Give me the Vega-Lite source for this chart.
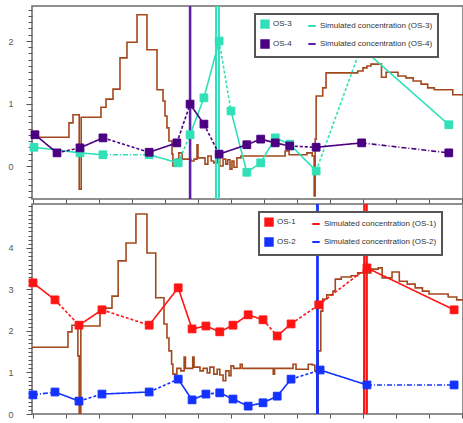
{
  "$schema": "https://vega.github.io/schema/vega-lite/v6.json",
  "background": "white",
  "padding": {"left": 7, "top": 5, "right": 0, "bottom": 0},
  "spacing": 5,
  "bounds": "flush",
  "config": {
    "view": {"stroke": "#6b6b6b", "strokeWidth": 1.5},
    "axis": {"title": null, "grid": false, "domain": false, "tickColor": "#555", "tickWidth": 1, "labelFont": "Liberation Sans", "labelFontSize": 9, "labelColor": "#555"},
    "axisX": {"labels": false, "tickSize": 4, "values": [0,2,4,6,8,10,12,14,16,18,20,22,24,26,28,30,32,34,36,38,40,42,44,46,48,50,52,54,56,58,60,62,64]},
    "axisY": {"tickSize": 5, "labelPadding": 14},
    "legend": {"orient": "none", "columns": 2, "columnPadding": 12, "rowPadding": 4, "padding": 5, "symbolSize": 55, "symbolStrokeWidth": 2, "labelFont": "Liberation Sans", "labelFontSize": 8, "labelColor": "#333", "labelOffset": 3, "fillColor": "white", "strokeColor": "#555"}
  },
  "datasets": {
    "top_brown": [
      {"t": -0.3, "v": 0.46}, {"t": 5.45, "v": 0.69}, {"t": 6.06, "v": 0.82}, {"t": 7.0, "v": -0.37}, {"t": 7.3, "v": 0.78},
      {"t": 10.3, "v": 0.94}, {"t": 11.06, "v": 1.07}, {"t": 12.12, "v": 1.23}, {"t": 13.18, "v": 1.73}, {"t": 14.24, "v": 1.98},
      {"t": 15.76, "v": 2.42}, {"t": 17.27, "v": 1.86}, {"t": 18.79, "v": 1.22}, {"t": 19.7, "v": 1.04}, {"t": 20.0, "v": 0.8},
      {"t": 20.3, "v": 0.61}, {"t": 20.6, "v": 0.4}, {"t": 21.06, "v": 0.19}, {"t": 21.2, "v": 0.0}, {"t": 21.7, "v": 0.11},
      {"t": 22.1, "v": 0.21}, {"t": 22.6, "v": 0.11}, {"t": 23.9, "v": 0.08}, {"t": 24.4, "v": 0.11}, {"t": 24.85, "v": 0.34},
      {"t": 25.0, "v": 0.13}, {"t": 26.06, "v": 0.03}, {"t": 26.5, "v": 0.16}, {"t": 27.0, "v": 0.08}, {"t": 27.4, "v": 0.05},
      {"t": 27.9, "v": 0.13}, {"t": 28.3, "v": 0.0}, {"t": 28.8, "v": 0.11}, {"t": 29.2, "v": 0.03}, {"t": 29.5, "v": 0.1},
      {"t": 29.85, "v": -0.05}, {"t": 30.15, "v": 0.08}, {"t": 30.45, "v": -0.02}, {"t": 30.9, "v": 0.13}, {"t": 31.5, "v": 0.16},
      {"t": 38.2, "v": 0.24}, {"t": 38.8, "v": 0.18}, {"t": 41.5, "v": 0.21}, {"t": 42.3, "v": 0.16}, {"t": 42.6, "v": -0.48},
      {"t": 42.75, "v": 0.43}, {"t": 42.9, "v": 1.12}, {"t": 43.9, "v": 1.25}, {"t": 44.4, "v": 1.49}, {"t": 49.2, "v": 1.52},
      {"t": 50.0, "v": 1.57}, {"t": 50.6, "v": 1.6}, {"t": 51.2, "v": 1.63}, {"t": 52.8, "v": 1.42}, {"t": 53.5, "v": 1.5},
      {"t": 55.3, "v": 1.44}, {"t": 56.5, "v": 1.41}, {"t": 57.6, "v": 1.36}, {"t": 58.8, "v": 1.31}, {"t": 59.8, "v": 1.25},
      {"t": 60.8, "v": 1.22}, {"t": 63.6, "v": 1.14}, {"t": 65.15, "v": 1.14}
    ],
    "top_sim": [
      {"series": "Simulated concentration (OS-4)", "t": 23.75, "v": -5}, {"series": "Simulated concentration (OS-4)", "t": 23.8, "v": 50}, {"series": "Simulated concentration (OS-4)", "t": 23.85, "v": -5},
      {"series": "Simulated concentration (OS-3)", "t": 27.7, "v": -5}, {"series": "Simulated concentration (OS-3)", "t": 27.95, "v": 50}, {"series": "Simulated concentration (OS-3)", "t": 28.2, "v": -5}
    ],
    "top_obs": [
      {"series": "OS-3", "t": 0.15, "v": 0.30, "seg": "observed"}, {"series": "OS-3", "t": 7.12, "v": 0.21, "seg": "observed"},
      {"series": "OS-3", "t": 10.6, "v": 0.18, "seg": "extrapolated"}, {"series": "OS-3", "t": 17.6, "v": 0.18, "seg": "observed"},
      {"series": "OS-3", "t": 22.0, "v": 0.05, "seg": "interpolated"}, {"series": "OS-3", "t": 23.8, "v": 0.50, "seg": "observed"},
      {"series": "OS-3", "t": 25.9, "v": 1.09, "seg": "observed"}, {"series": "OS-3", "t": 28.2, "v": 2.0, "seg": "interpolated"},
      {"series": "OS-3", "t": 30.0, "v": 0.88, "seg": "observed"}, {"series": "OS-3", "t": 32.4, "v": -0.10, "seg": "observed"},
      {"series": "OS-3", "t": 34.5, "v": 0.05, "seg": "observed"}, {"series": "OS-3", "t": 36.7, "v": 0.45, "seg": "observed"},
      {"series": "OS-3", "t": 38.9, "v": 0.35, "seg": "observed"}, {"series": "OS-3", "t": 42.9, "v": -0.08, "seg": "interpolated"},
      {"series": "OS-3", "t": 49.7, "v": 1.90, "seg": "observed"}, {"series": "OS-3", "t": 63.0, "v": 0.66, "seg": "observed"},
      {"series": "OS-4", "t": 0.3, "v": 0.50, "seg": "observed"}, {"series": "OS-4", "t": 3.64, "v": 0.21, "seg": "interpolated"},
      {"series": "OS-4", "t": 7.12, "v": 0.29, "seg": "observed"}, {"series": "OS-4", "t": 10.6, "v": 0.45, "seg": "interpolated"},
      {"series": "OS-4", "t": 17.6, "v": 0.22, "seg": "observed"}, {"series": "OS-4", "t": 21.8, "v": 0.37, "seg": "interpolated"},
      {"series": "OS-4", "t": 23.8, "v": 0.99, "seg": "observed"}, {"series": "OS-4", "t": 25.9, "v": 0.67, "seg": "interpolated"},
      {"series": "OS-4", "t": 28.2, "v": 0.19, "seg": "observed"}, {"series": "OS-4", "t": 32.4, "v": 0.34, "seg": "observed"},
      {"series": "OS-4", "t": 34.5, "v": 0.43, "seg": "observed"}, {"series": "OS-4", "t": 36.7, "v": 0.37, "seg": "observed"},
      {"series": "OS-4", "t": 38.9, "v": 0.32, "seg": "interpolated"}, {"series": "OS-4", "t": 42.9, "v": 0.30, "seg": "observed"},
      {"series": "OS-4", "t": 49.8, "v": 0.37, "seg": "extrapolated"}, {"series": "OS-4", "t": 63.0, "v": 0.21, "seg": "observed"}
    ],
    "bot_brown": [
      {"t": -0.3, "v": 1.61}, {"t": 5.3, "v": 1.98}, {"t": 5.9, "v": 2.14}, {"t": 6.8, "v": 1.40}, {"t": 7.0, "v": 0.0},
      {"t": 7.25, "v": 2.12}, {"t": 10.15, "v": 2.55}, {"t": 11.97, "v": 2.84}, {"t": 12.9, "v": 3.69}, {"t": 14.1, "v": 4.12},
      {"t": 15.6, "v": 4.82}, {"t": 17.27, "v": 3.88}, {"t": 18.6, "v": 2.80}, {"t": 19.85, "v": 2.17}, {"t": 20.3, "v": 1.83},
      {"t": 20.6, "v": 1.52}, {"t": 21.0, "v": 1.2}, {"t": 21.2, "v": 0.96}, {"t": 21.8, "v": 1.1}, {"t": 22.4, "v": 1.04},
      {"t": 22.9, "v": 1.37}, {"t": 23.1, "v": 1.1}, {"t": 24.2, "v": 1.37}, {"t": 24.4, "v": 1.13}, {"t": 25.3, "v": 1.04},
      {"t": 25.8, "v": 1.1}, {"t": 26.4, "v": 0.99}, {"t": 26.8, "v": 1.13}, {"t": 27.4, "v": 0.96}, {"t": 27.9, "v": 1.08},
      {"t": 28.3, "v": 0.94}, {"t": 28.8, "v": 0.8}, {"t": 29.2, "v": 1.04}, {"t": 29.7, "v": 0.92}, {"t": 30.0, "v": 1.16},
      {"t": 30.4, "v": 1.1}, {"t": 31.4, "v": 1.2}, {"t": 31.7, "v": 1.1}, {"t": 36.4, "v": 0.96}, {"t": 36.6, "v": 1.1},
      {"t": 39.4, "v": 1.2}, {"t": 39.85, "v": 1.08}, {"t": 41.7, "v": 1.2}, {"t": 42.3, "v": 1.18}, {"t": 42.7, "v": 1.04},
      {"t": 43.0, "v": 0.0}, {"t": 43.2, "v": 1.52}, {"t": 43.6, "v": 2.48}, {"t": 43.9, "v": 2.77}, {"t": 44.5, "v": 2.87},
      {"t": 45.45, "v": 2.96}, {"t": 45.8, "v": 3.25}, {"t": 46.7, "v": 3.30}, {"t": 48.2, "v": 3.33}, {"t": 49.2, "v": 3.40},
      {"t": 51.2, "v": 3.49}, {"t": 52.3, "v": 3.52}, {"t": 52.9, "v": 3.28}, {"t": 54.4, "v": 3.42}, {"t": 55.5, "v": 3.20},
      {"t": 56.7, "v": 3.13}, {"t": 57.9, "v": 3.04}, {"t": 59.0, "v": 2.96}, {"t": 60.0, "v": 2.89}, {"t": 62.9, "v": 2.82},
      {"t": 64.2, "v": 2.75}, {"t": 65.15, "v": 2.75}
    ],
    "bot_sim": [
      {"series": "Simulated concentration (OS-2)", "t": 43.05, "v": -5}, {"series": "Simulated concentration (OS-2)", "t": 43.1, "v": 50}, {"series": "Simulated concentration (OS-2)", "t": 43.15, "v": -5},
      {"series": "Simulated concentration (OS-1)", "t": 50.15, "v": -5}, {"series": "Simulated concentration (OS-1)", "t": 50.38, "v": 50}, {"series": "Simulated concentration (OS-1)", "t": 50.6, "v": -5}
    ],
    "bot_obs": [
      {"series": "OS-1", "t": 0.0, "v": 3.16, "seg": "observed"}, {"series": "OS-1", "t": 3.33, "v": 2.75, "seg": "interpolated"},
      {"series": "OS-1", "t": 6.97, "v": 2.14, "seg": "observed"}, {"series": "OS-1", "t": 10.45, "v": 2.51, "seg": "interpolated"},
      {"series": "OS-1", "t": 17.6, "v": 2.14, "seg": "observed"}, {"series": "OS-1", "t": 22.0, "v": 3.04, "seg": "observed"},
      {"series": "OS-1", "t": 24.1, "v": 2.05, "seg": "observed"}, {"series": "OS-1", "t": 26.2, "v": 2.12, "seg": "observed"},
      {"series": "OS-1", "t": 28.3, "v": 1.98, "seg": "observed"}, {"series": "OS-1", "t": 30.3, "v": 2.14, "seg": "observed"},
      {"series": "OS-1", "t": 32.6, "v": 2.39, "seg": "observed"}, {"series": "OS-1", "t": 34.85, "v": 2.27, "seg": "interpolated"},
      {"series": "OS-1", "t": 37.0, "v": 1.88, "seg": "observed"}, {"series": "OS-1", "t": 39.1, "v": 2.17, "seg": "interpolated"},
      {"series": "OS-1", "t": 43.3, "v": 2.63, "seg": "interpolated"}, {"series": "OS-1", "t": 50.6, "v": 3.52, "seg": "observed"},
      {"series": "OS-1", "t": 63.8, "v": 2.51, "seg": "observed"},
      {"series": "OS-2", "t": 0.0, "v": 0.46, "seg": "extrapolated"}, {"series": "OS-2", "t": 3.33, "v": 0.53, "seg": "observed"},
      {"series": "OS-2", "t": 6.97, "v": 0.31, "seg": "interpolated"}, {"series": "OS-2", "t": 10.45, "v": 0.48, "seg": "observed"},
      {"series": "OS-2", "t": 17.6, "v": 0.53, "seg": "interpolated"}, {"series": "OS-2", "t": 22.0, "v": 0.84, "seg": "observed"},
      {"series": "OS-2", "t": 24.1, "v": 0.34, "seg": "observed"}, {"series": "OS-2", "t": 26.2, "v": 0.48, "seg": "interpolated"},
      {"series": "OS-2", "t": 28.3, "v": 0.51, "seg": "observed"}, {"series": "OS-2", "t": 30.3, "v": 0.36, "seg": "observed"},
      {"series": "OS-2", "t": 32.6, "v": 0.19, "seg": "observed"}, {"series": "OS-2", "t": 34.85, "v": 0.27, "seg": "observed"},
      {"series": "OS-2", "t": 37.0, "v": 0.43, "seg": "observed"}, {"series": "OS-2", "t": 39.1, "v": 0.84, "seg": "interpolated"},
      {"series": "OS-2", "t": 43.5, "v": 1.06, "seg": "observed"}, {"series": "OS-2", "t": 50.6, "v": 0.70, "seg": "extrapolated"},
      {"series": "OS-2", "t": 63.8, "v": 0.70, "seg": "observed"}
    ]
  },
  "vconcat": [
    {
      "width": 431,
      "height": 193,
      "resolve": {"axis": {"y": "independent"}},
      "layer": [
        {
          "data": {"name": "top_brown"},
          "mark": {"type": "line", "interpolate": "step-after", "color": "#A2481C", "strokeWidth": 1.6, "clip": true},
          "encoding": {
            "x": {"field": "t", "type": "quantitative", "scale": {"domain": [-0.15, 65.15], "nice": false, "zero": false}},
            "y": {"field": "v", "type": "quantitative", "scale": {"domain": [-0.528, 2.56], "nice": false, "zero": false},
                  "axis": {"orient": "left", "values": [0, 1, 2], "format": "d", "tickSize": 6, "labelPadding": 13}}
          }
        },
        {
          "data": {"name": "top_sim"},
          "mark": {"type": "line", "strokeWidth": 2, "clip": true},
          "encoding": {
            "x": {"field": "t", "type": "quantitative"},
            "y": {"field": "v", "type": "quantitative",
                  "axis": {"orient": "left", "labels": false, "tickSize": 4, "values": [-0.5,-0.4,-0.3,-0.2,-0.1,0.1,0.2,0.3,0.4,0.5,0.6,0.7,0.8,0.9,1.1,1.2,1.3,1.4,1.5,1.6,1.7,1.8,1.9,2.1,2.2,2.3,2.4,2.5]}},
            "stroke": {"field": "series", "type": "nominal",
              "scale": {"domain": ["OS-3", "Simulated concentration (OS-3)", "OS-4", "Simulated concentration (OS-4)"], "range": ["#30E0B8", "#30E0B8", "#4B0082", "#5E22A8"]},
              "legend": {"title": null, "legendX": 223, "legendY": 8, "values": ["OS-3", "OS-4", "Simulated concentration (OS-3)", "Simulated concentration (OS-4)"], "encode": {"legend": {"update": {"strokeWidth": {"value": 2}}}}}}
          }
        },
        {
          "data": {"name": "top_obs"},
          "transform": [
            {"window": [{"op": "lead", "field": "t", "as": "t2"}, {"op": "lead", "field": "v", "as": "v2"}], "groupby": ["series"], "sort": [{"field": "t"}]},
            {"filter": "datum.t2 != null"}
          ],
          "mark": {"type": "rule", "strokeWidth": 1.6, "clip": true},
          "encoding": {
            "x": {"field": "t", "type": "quantitative"},
            "y": {"field": "v", "type": "quantitative", "axis": null},
            "x2": {"field": "t2"},
            "y2": {"field": "v2"},
            "stroke": {"field": "series", "type": "nominal"},
            "strokeDash": {"field": "seg", "type": "nominal", "scale": {"domain": ["observed", "interpolated", "extrapolated"], "range": [[1, 0], [3, 2], [5, 2, 1, 2]]}, "legend": null}
          }
        },
        {
          "data": {"name": "top_obs"},
          "mark": {"type": "point", "filled": true, "size": 60, "strokeWidth": 1, "opacity": 1},
          "encoding": {
            "x": {"field": "t", "type": "quantitative"},
            "y": {"field": "v", "type": "quantitative", "axis": null},
            "fill": {"field": "series", "type": "nominal",
              "scale": {"domain": ["OS-3", "Simulated concentration (OS-3)", "OS-4", "Simulated concentration (OS-4)"], "range": ["#30E0B8", "#30E0B8", "#4B0082", "#5E22A8"]},
              "legend": {"title": null, "legendX": 223, "legendY": 8, "values": ["OS-3", "OS-4", "Simulated concentration (OS-3)", "Simulated concentration (OS-4)"], "encode": {"legend": {"update": {"strokeWidth": {"value": 2}}}}}},
            "stroke": {"field": "series", "type": "nominal"},
            "shape": {"field": "series", "type": "nominal",
              "scale": {"domain": ["OS-3", "Simulated concentration (OS-3)", "OS-4", "Simulated concentration (OS-4)"], "range": ["square", "stroke", "square", "stroke"]},
              "legend": {"title": null, "legendX": 223, "legendY": 8, "values": ["OS-3", "OS-4", "Simulated concentration (OS-3)", "Simulated concentration (OS-4)"], "encode": {"legend": {"update": {"strokeWidth": {"value": 2}}}}}}
          }
        }
      ]
    },
    {
      "width": 431,
      "height": 210,
      "resolve": {"axis": {"y": "independent"}},
      "layer": [
        {
          "data": {"name": "bot_brown"},
          "mark": {"type": "line", "interpolate": "step-after", "color": "#A2481C", "strokeWidth": 1.6, "clip": true},
          "encoding": {
            "x": {"field": "t", "type": "quantitative", "scale": {"domain": [-0.15, 65.15], "nice": false, "zero": false}},
            "y": {"field": "v", "type": "quantitative", "scale": {"domain": [0, 5.06], "nice": false, "zero": false},
                  "axis": {"orient": "left", "values": [0, 1, 2, 3, 4], "format": "d", "tickSize": 6, "labelPadding": 13}}
          }
        },
        {
          "data": {"name": "bot_sim"},
          "mark": {"type": "line", "strokeWidth": 2.2, "clip": true},
          "encoding": {
            "x": {"field": "t", "type": "quantitative"},
            "y": {"field": "v", "type": "quantitative",
                  "axis": {"orient": "left", "labels": false, "tickSize": 4, "values": [0.1,0.2,0.3,0.4,0.5,0.6,0.7,0.8,0.9,1.1,1.2,1.3,1.4,1.5,1.6,1.7,1.8,1.9,2.1,2.2,2.3,2.4,2.5,2.6,2.7,2.8,2.9,3.1,3.2,3.3,3.4,3.5,3.6,3.7,3.8,3.9,4.1,4.2,4.3,4.4,4.5,4.6,4.7,4.8,4.9,5]}},
            "stroke": {"field": "series", "type": "nominal",
              "scale": {"domain": ["OS-1", "Simulated concentration (OS-1)", "OS-2", "Simulated concentration (OS-2)"], "range": ["#FF1414", "#FF1414", "#1432FF", "#1432FF"]},
              "legend": {"title": null, "legendX": 227, "legendY": 8, "values": ["OS-1", "OS-2", "Simulated concentration (OS-1)", "Simulated concentration (OS-2)"], "encode": {"legend": {"update": {"strokeWidth": {"value": 2}}}}}}
          }
        },
        {
          "data": {"name": "bot_obs"},
          "transform": [
            {"window": [{"op": "lead", "field": "t", "as": "t2"}, {"op": "lead", "field": "v", "as": "v2"}], "groupby": ["series"], "sort": [{"field": "t"}]},
            {"filter": "datum.t2 != null"}
          ],
          "mark": {"type": "rule", "strokeWidth": 1.6, "clip": true},
          "encoding": {
            "x": {"field": "t", "type": "quantitative"},
            "y": {"field": "v", "type": "quantitative", "axis": null},
            "x2": {"field": "t2"},
            "y2": {"field": "v2"},
            "stroke": {"field": "series", "type": "nominal"},
            "strokeDash": {"field": "seg", "type": "nominal", "scale": {"domain": ["observed", "interpolated", "extrapolated"], "range": [[1, 0], [3, 2], [5, 2, 1, 2]]}, "legend": null}
          }
        },
        {
          "data": {"name": "bot_obs"},
          "mark": {"type": "point", "filled": true, "size": 60, "strokeWidth": 1, "opacity": 1},
          "encoding": {
            "x": {"field": "t", "type": "quantitative"},
            "y": {"field": "v", "type": "quantitative", "axis": null},
            "fill": {"field": "series", "type": "nominal",
              "scale": {"domain": ["OS-1", "Simulated concentration (OS-1)", "OS-2", "Simulated concentration (OS-2)"], "range": ["#FF1414", "#FF1414", "#1432FF", "#1432FF"]},
              "legend": {"title": null, "legendX": 227, "legendY": 8, "values": ["OS-1", "OS-2", "Simulated concentration (OS-1)", "Simulated concentration (OS-2)"], "encode": {"legend": {"update": {"strokeWidth": {"value": 2}}}}}},
            "stroke": {"field": "series", "type": "nominal"},
            "shape": {"field": "series", "type": "nominal",
              "scale": {"domain": ["OS-1", "Simulated concentration (OS-1)", "OS-2", "Simulated concentration (OS-2)"], "range": ["square", "stroke", "square", "stroke"]},
              "legend": {"title": null, "legendX": 227, "legendY": 8, "values": ["OS-1", "OS-2", "Simulated concentration (OS-1)", "Simulated concentration (OS-2)"], "encode": {"legend": {"update": {"strokeWidth": {"value": 2}}}}}}
          }
        }
      ]
    }
  ],
  "resolve": {"scale": {"y": "independent", "fill": "independent", "stroke": "independent", "shape": "independent", "strokeDash": "independent"}}
}
